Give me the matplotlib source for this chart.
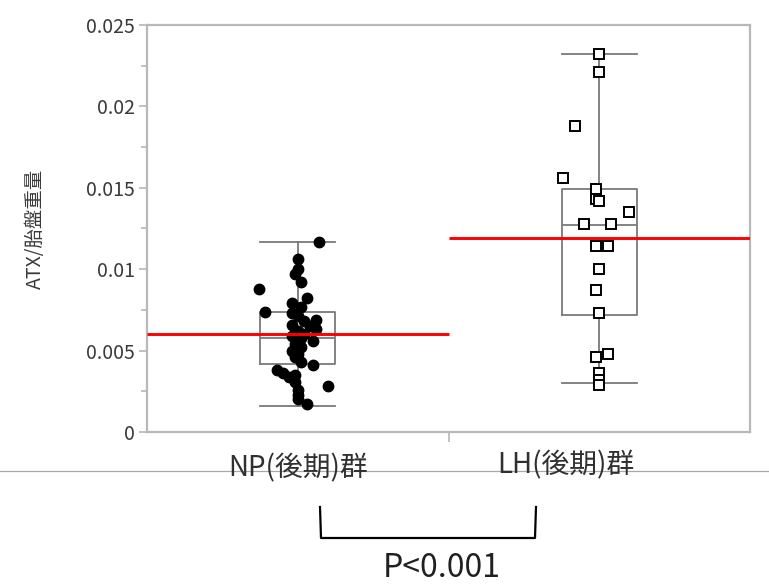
import numpy as np
import matplotlib.pyplot as plt
from matplotlib.lines import Line2D

plt.rcParams['font.family'] = ['Noto Sans CJK JP', 'DejaVu Sans']

# ATX / 胎盤重量 の値
groups = ['NP(後期)群', 'LH(後期)群']
np_vals = [0.0117, 0.0106, 0.0100, 0.0097, 0.0092, 0.0088, 0.0082, 0.0079, 0.0077,
           0.0074, 0.0073, 0.0071, 0.0069, 0.0068, 0.0066, 0.0065, 0.0063, 0.0062,
           0.0060, 0.0059, 0.0058, 0.0056, 0.0054, 0.0052, 0.0050, 0.0048, 0.0046,
           0.0043, 0.0041, 0.0038, 0.0036, 0.0034, 0.0031, 0.0028, 0.0026, 0.0023,
           0.0020, 0.0017, 0.0035]
np_jit = [0.07, 0, 0, -0.01, 0.01, -0.13, 0.03, -0.02, 0.01, -0.11, -0.02, 0, 0.06,
          0.02, -0.02, 0.04, 0.06, 0, 0.02, -0.02, 0.01, 0.05, -0.01, 0.01, -0.02, 0,
          -0.01, 0.01, 0.05, -0.07, -0.05, -0.03, -0.01, 0.10, 0, 0, 0, 0.03, -0.01]
lh_vals = [0.0232, 0.0221, 0.0188, 0.0156, 0.0149, 0.0143, 0.0142, 0.0135, 0.0128,
           0.0128, 0.0114, 0.0114, 0.0100, 0.0087, 0.0073, 0.0048, 0.0046, 0.0036,
           0.0032, 0.0029]
lh_jit = [0, 0, -0.08, -0.12, -0.01, -0.01, 0, 0.10, -0.05, 0.04, -0.01, 0.03, 0,
          -0.01, 0, 0.03, -0.01, 0, 0, 0]

# box stats: whisker low, Q1, median, Q3, whisker high
whislo = [0.0016, 0.0030]
q1 = [0.0042, 0.0072]
med = [0.0058, 0.0127]
q3 = [0.0074, 0.0149]
whishi = [0.0117, 0.0232]
means = [0.0060, 0.0119]

fig = plt.figure(figsize=(7.69, 5.84), dpi=100)
ax = fig.add_axes([0.1912, 0.2603, 0.7841, 0.6969])

pos = [0.5, 1.5]
stats = []
for i in range(2):
    stats.append(dict(whislo=whislo[i], q1=q1[i], med=med[i], q3=q3[i], whishi=whishi[i]))
gray = '#7a7a7a'
ax.bxp(stats, positions=pos, widths=0.25, showfliers=False, manage_ticks=False,
       boxprops=dict(color=gray, lw=1.3), whiskerprops=dict(color=gray, lw=1.3),
       capprops=dict(color=gray, lw=1.3), medianprops=dict(color=gray, lw=1.3),
       capwidths=0.25)

ax.plot(pos[0] + np.array(np_jit), np_vals, 'o', color='black', ms=7.5, zorder=3)
ax.plot(pos[1] + np.array(lh_jit), lh_vals, 's', mfc='white', mec='black',
        mew=1.4, ms=7, zorder=3)

# group means
for i in range(2):
    ax.hlines(means[i], i, i + 1, color='#ff0000', lw=2.1, zorder=4)

ax.set_xlim(0, 2)
ax.set_ylim(0, 0.025)
ax.set_yticks(np.arange(0, 0.0251, 0.005))
ax.set_yticklabels(['0', '0.005', '0.01', '0.015', '0.02', '0.025'])
ax.set_yticks(np.arange(0.0025, 0.025, 0.005), minor=True)
ax.set_xticks([1])
ax.set_xticklabels([''])
for s in ax.spines.values():
    s.set_color('#b8b8b8')
    s.set_linewidth(1.6)
ax.tick_params(axis='y', which='major', length=6, width=1.2, color='#b8b8b8',
               labelsize=14, labelcolor='#3a3a3a', pad=3)
ax.tick_params(axis='y', which='minor', length=4, width=1.2, color='#b8b8b8')
ax.tick_params(axis='x', length=7, width=1.2, color='#b8b8b8')
ax.set_ylabel('ATX/胎盤重量', fontsize=14, color='#3a3a3a')
ax.yaxis.set_label_coords(-0.168, 0.5)

# divider line under the chart
fig.add_artist(Line2D([0, 1], [1 - 471 / 584] * 2, color='#a8a8a8', lw=0.9))

fig.text(298.5 / 769, 1 - 468 / 584, groups[0], ha='center', va='center',
         fontsize=20, color='#303030')
fig.text(566 / 769, 1 - 465 / 584, groups[1], ha='center', va='center',
         fontsize=20, color='#303030')

# significance bracket
bx = [320 / 769, 321 / 769, 535 / 769, 536 / 769]
by = [1 - 507 / 584, 1 - 538 / 584, 1 - 538 / 584, 1 - 507 / 584]
fig.add_artist(Line2D(bx, by, color='black', lw=1.6, solid_joinstyle='round'))
fig.text(442 / 769, 1 - 568 / 584, 'P<0.001', ha='center', va='center',
         fontsize=23, color='#202020')

fig.savefig('out.png', dpi=100)
